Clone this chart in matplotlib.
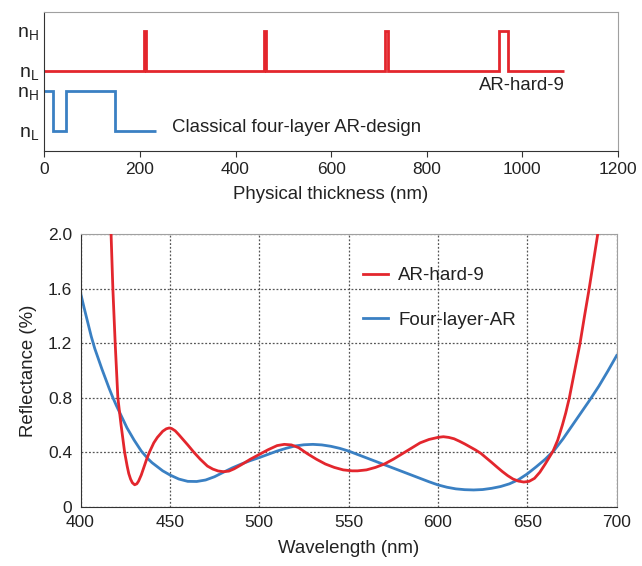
import matplotlib
matplotlib.use("Agg")
import matplotlib.pyplot as plt

plt.rcParams['font.family'] = ['Liberation Sans', 'DejaVu Sans']
plt.rcParams['mathtext.fontset'] = 'custom'
plt.rcParams['mathtext.rm'] = 'Liberation Sans'
plt.rcParams['mathtext.it'] = 'Liberation Sans'

# --- layer profiles (physical thickness in nm) ---
hard9_edges = [0, 209, 213, 459, 464, 712, 720, 951, 969, 1088]
hard9_index = ['L', 'H', 'L', 'H', 'L', 'H', 'L', 'H', 'L']
four_edges = [0, 19, 45, 148, 234]
four_index = ['H', 'L', 'H', 'L']

# --- reflectance spectra ---
hard9_wl = [415, 417.1, 418.1, 419.4, 420.9, 422.7, 424.7, 426.1, 427, 428, 429, 430.3, 431.5,
            432.5, 434, 435.7, 437, 438.5, 441, 443, 446, 448, 449.6, 451, 453, 455, 457, 460,
            463.5, 467, 471, 474, 477, 480, 483, 486, 490, 495, 500, 505, 510, 514, 518, 522,
            527, 532, 537, 542, 547, 552, 555, 560, 565, 570, 575, 580, 585, 590, 595, 600,
            603, 606, 609, 612, 615, 618, 621, 624, 627, 630, 633, 636, 639, 642, 645, 648,
            651, 654, 657, 660, 662, 664.4, 667, 669.6, 671.5, 673.5, 676.5, 679.5, 682,
            684.6, 687, 689.4, 691]
hard9_R = [2.3, 2.0, 1.6, 1.2, 0.8, 0.6, 0.4, 0.3, 0.245, 0.205, 0.178, 0.163, 0.17,
           0.19, 0.235, 0.3, 0.35, 0.4, 0.47, 0.51, 0.555, 0.573, 0.579, 0.575, 0.558, 0.53, 0.5, 0.455,
           0.4, 0.35, 0.30, 0.278, 0.264, 0.259, 0.263, 0.28, 0.31, 0.35, 0.385, 0.42, 0.45, 0.459, 0.455, 0.435,
           0.39, 0.35, 0.315, 0.29, 0.272, 0.265, 0.265, 0.272, 0.29, 0.315, 0.35, 0.39, 0.43, 0.47, 0.495, 0.51,
           0.515, 0.51, 0.5, 0.482, 0.462, 0.44, 0.418, 0.393, 0.36, 0.327, 0.293, 0.26, 0.23, 0.205, 0.19, 0.183,
           0.188, 0.21, 0.255, 0.315, 0.358, 0.41, 0.49, 0.6, 0.69, 0.8, 1.0, 1.2, 1.4,
           1.6, 1.8, 2.0, 2.15]

four_wl = [400, 402, 404, 406, 408, 410, 412, 414, 416, 418, 420, 422, 424, 426, 428, 430,
           432, 434, 436, 438, 440, 443, 446, 450, 455, 460, 465, 470, 475, 480, 485, 490,
           495, 500, 505, 510, 515, 520, 525, 530, 535, 540, 545, 550, 555, 560, 565, 570,
           575, 580, 585, 590, 595, 600, 605, 610, 615, 620, 625, 630, 635, 640, 645, 650,
           655, 660, 665, 670, 675, 680, 685, 690, 695, 700]
four_R = [1.57, 1.46, 1.355, 1.25, 1.16, 1.085, 1.01, 0.94, 0.87, 0.805, 0.745, 0.69, 0.635, 0.58, 0.535, 0.49,
          0.45, 0.41, 0.38, 0.35, 0.325, 0.295, 0.265, 0.235, 0.205, 0.188, 0.187, 0.198, 0.222, 0.255, 0.287, 0.315,
          0.34, 0.362, 0.386, 0.41, 0.43, 0.447, 0.456, 0.459, 0.455, 0.445, 0.43, 0.41, 0.385, 0.36, 0.335, 0.31,
          0.285, 0.26, 0.235, 0.21, 0.185, 0.162, 0.145, 0.133, 0.127, 0.125, 0.128, 0.137, 0.15, 0.17, 0.2, 0.243,
          0.295, 0.35, 0.415, 0.5, 0.595, 0.69, 0.785, 0.885, 0.995, 1.11]

RED = '#e3262d'
BLUE = '#3a80c3'
TXT = '#222222'

fig = plt.figure(figsize=(6.42, 5.66), dpi=100)

# ---------------- top panel ----------------
ax1 = fig.add_axes([0.069, 0.733, 0.8935, 0.246])
lev_hard = {'H': 3.0, 'L': 2.0}
lev_four = {'H': 1.5, 'L': 0.5}
ax1.stairs([lev_hard[k] for k in hard9_index], hard9_edges, baseline=None, color=RED, lw=2)
ax1.stairs([lev_four[k] for k in four_index], four_edges, baseline=None, color=BLUE, lw=2)
ax1.set_xlim(0, 1200)
ax1.set_ylim(0, 3.475)
ax1.set_xticks(range(0, 1201, 200))
ax1.set_yticks([3.0, 2.0, 1.5, 0.5])
ax1.set_yticklabels([r'n$_\mathregular{H}$', r'n$_\mathregular{L}$', r'n$_\mathregular{H}$', r'n$_\mathregular{L}$'])
ax1.tick_params(axis='y', length=0, labelsize=14, pad=4, labelcolor=TXT)
ax1.tick_params(axis='x', labelsize=12.5, direction='out', length=4, color='#333333', labelcolor=TXT)
ax1.text(1090, 1.65, 'AR-hard-9', ha='right', va='center', fontsize=13.4, color=TXT)
ax1.text(268, 0.6, 'Classical four-layer AR-design', ha='left', va='center', fontsize=13.4, color=TXT)
ax1.set_xlabel('Physical thickness (nm)', fontsize=13.4, labelpad=7, color=TXT)
for s in ['top', 'right']:
    ax1.spines[s].set_color('#a0a0a0')
for s in ['left', 'bottom']:
    ax1.spines[s].set_color('#333333')

# ---------------- bottom panel ----------------
ax2 = fig.add_axes([0.1254, 0.1042, 0.8352, 0.4824])
ax2.plot(hard9_wl, hard9_R, color=RED, lw=2, label='AR-hard-9', zorder=3)
ax2.plot(four_wl, four_R, color=BLUE, lw=2, label='Four-layer-AR', zorder=2)
ax2.set_xlim(400, 700)
ax2.set_ylim(0, 2.0)
ax2.set_xticks(range(400, 701, 50))
ax2.set_yticks([0, 0.4, 0.8, 1.2, 1.6, 2.0])
ax2.set_yticklabels(['0', '0.4', '0.8', '1.2', '1.6', '2.0'])
ax2.grid(True, color='#555555', linestyle=(0, (1.5, 1.5)), lw=0.9)
ax2.tick_params(labelsize=12.5, length=0, pad=6, labelcolor=TXT)
ax2.set_xlabel('Wavelength (nm)', fontsize=13.4, labelpad=7, color=TXT)
ax2.set_ylabel('Reflectance (%)', fontsize=13.4, labelpad=8, color=TXT)
for s in ['top', 'right']:
    ax2.spines[s].set_color('#a0a0a0')
for s in ['left', 'bottom']:
    ax2.spines[s].set_color('#333333')
leg = ax2.legend(loc='upper left', bbox_to_anchor=(0.495, 0.94), frameon=False,
                 fontsize=13.5, handlelength=1.35, handletextpad=0.55, labelspacing=1.45)
for t in leg.get_texts():
    t.set_color(TXT)

fig.savefig('out.png', dpi=100)
